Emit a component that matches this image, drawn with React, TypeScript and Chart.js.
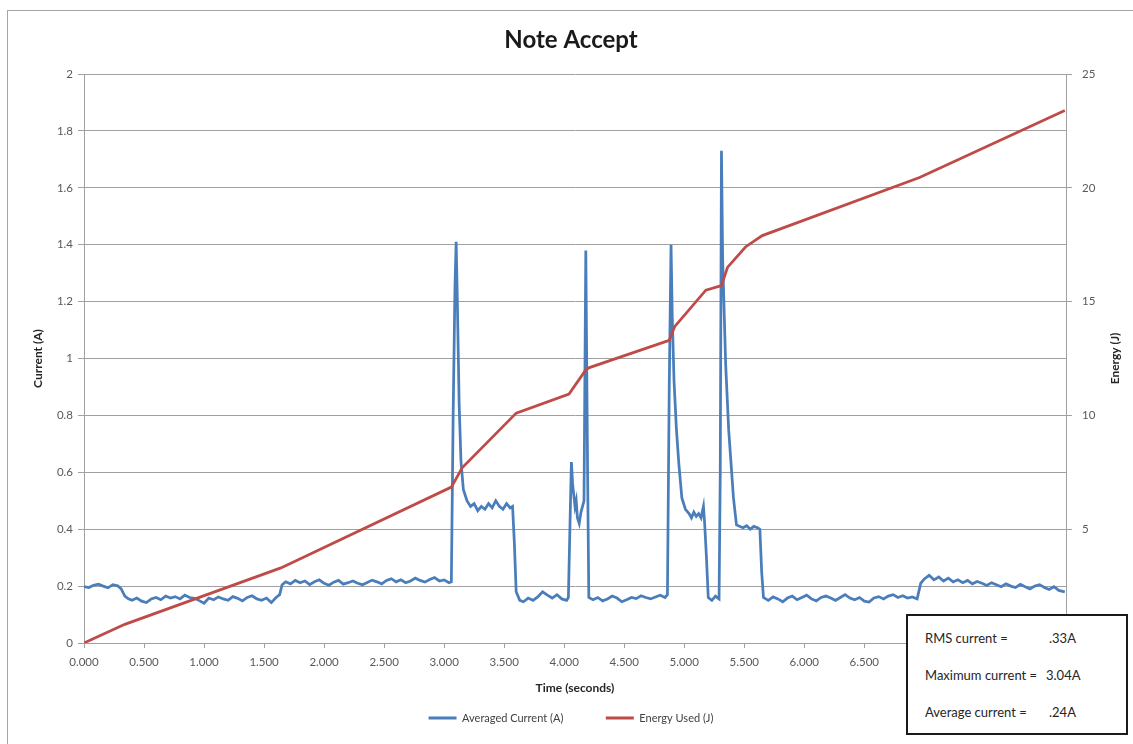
import React, { useEffect, useRef } from "react";
import { Chart, registerables } from "chart.js";

Chart.register(...registerables);

const chartTitle = "Note Accept";
const xAxisTitle = "Time (seconds)";
const leftAxisTitle = "Current (A)";
const rightAxisTitle = "Energy (J)";
const seriesNames = ["Averaged Current (A)", "Energy Used (J)"];

// Averaged current samples: time (s) and current (A)
const currentTime = [
  0, 0.04, 0.08, 0.12, 0.16, 0.2, 0.24, 0.28, 0.31, 0.34, 0.37,
  0.4, 0.44, 0.48, 0.52, 0.56, 0.6, 0.64, 0.68, 0.72, 0.76,
  0.8, 0.84, 0.88, 0.92, 0.96, 1.0, 1.04, 1.08, 1.12, 1.16,
  1.2, 1.24, 1.28, 1.32, 1.36, 1.4, 1.44, 1.48, 1.52, 1.56, 1.6, 1.63,
  1.65, 1.68, 1.72, 1.76, 1.8, 1.84, 1.88, 1.92, 1.96, 2.0,
  2.04, 2.08, 2.12, 2.16, 2.2, 2.24, 2.28, 2.32, 2.36, 2.4,
  2.44, 2.48, 2.52, 2.56, 2.6, 2.64, 2.68, 2.72, 2.76, 2.8,
  2.84, 2.88, 2.92, 2.96, 3.0, 3.04, 3.06,
  3.075, 3.09, 3.1, 3.11, 3.125, 3.14, 3.16, 3.19, 3.22, 3.25,
  3.28, 3.31, 3.34, 3.37, 3.4, 3.43, 3.46, 3.49, 3.52, 3.55, 3.57, 3.585,
  3.6, 3.63, 3.66, 3.7, 3.74, 3.78, 3.82, 3.86, 3.9, 3.94, 3.98, 4.02,
  4.035, 4.05, 4.06, 4.07, 4.08, 4.09, 4.1, 4.11, 4.125, 4.14, 4.165, 4.18, 4.195, 4.205,
  4.24, 4.28, 4.32, 4.36, 4.4, 4.44, 4.48, 4.52, 4.56, 4.6,
  4.64, 4.68, 4.72, 4.76, 4.8, 4.84, 4.86,
  4.875, 4.89, 4.9, 4.915, 4.935, 4.955, 4.98, 5.01, 5.04, 5.06, 5.08, 5.1, 5.12, 5.14, 5.16, 5.17, 5.185,
  5.2, 5.23, 5.26, 5.29,
  5.3, 5.31, 5.32, 5.345, 5.37, 5.41, 5.435, 5.46, 5.49, 5.52, 5.55, 5.58, 5.61, 5.63, 5.645,
  5.66, 5.7, 5.74, 5.78, 5.82, 5.86, 5.9, 5.94, 5.98, 6.02,
  6.06, 6.1, 6.14, 6.18, 6.22, 6.26, 6.3, 6.34, 6.38, 6.42,
  6.46, 6.5, 6.54, 6.58, 6.62, 6.66, 6.7, 6.74, 6.78, 6.82, 6.86, 6.9, 6.94,
  6.97, 7.0, 7.04, 7.08, 7.12, 7.16, 7.2, 7.24, 7.28, 7.32,
  7.36, 7.4, 7.44, 7.48, 7.52, 7.56, 7.6, 7.64, 7.68, 7.72,
  7.76, 7.8, 7.84, 7.88, 7.92, 7.96, 8.0, 8.04, 8.08, 8.12, 8.17,
];

const currentA = [
  0.198, 0.195, 0.203, 0.207, 0.2, 0.194, 0.205, 0.201, 0.19, 0.165, 0.155,
  0.15, 0.158, 0.147, 0.142, 0.155, 0.16, 0.152, 0.165, 0.158, 0.163,
  0.155, 0.168, 0.16, 0.157, 0.149, 0.14, 0.158, 0.152, 0.162, 0.155,
  0.15, 0.163, 0.157, 0.148, 0.16, 0.166, 0.155, 0.15, 0.158, 0.142, 0.16, 0.17,
  0.205, 0.215, 0.208, 0.22, 0.212, 0.218, 0.205, 0.215, 0.222, 0.21,
  0.203, 0.214, 0.22, 0.207, 0.212, 0.218, 0.21, 0.205, 0.213, 0.221,
  0.215, 0.208, 0.22, 0.226, 0.215, 0.222, 0.212, 0.218, 0.228, 0.22,
  0.214, 0.223, 0.23, 0.218, 0.222, 0.212, 0.215,
  0.8, 1.25, 1.41, 1.2, 0.84, 0.64, 0.54, 0.5, 0.48, 0.49,
  0.465, 0.48, 0.47, 0.49, 0.475, 0.5, 0.48, 0.47, 0.49, 0.475, 0.48, 0.35,
  0.18, 0.15, 0.145, 0.158, 0.15, 0.162, 0.18, 0.168, 0.158, 0.17, 0.155, 0.15,
  0.16, 0.45, 0.636, 0.56, 0.52, 0.48, 0.5, 0.44, 0.42, 0.46, 0.5, 1.38, 0.6, 0.16,
  0.152, 0.16, 0.148, 0.155, 0.165, 0.158, 0.145, 0.152, 0.16, 0.156,
  0.166, 0.16, 0.155, 0.162, 0.168, 0.16, 0.17,
  0.9, 1.4, 1.15, 0.92, 0.75, 0.63, 0.51, 0.47, 0.455, 0.44, 0.46, 0.445, 0.455, 0.44, 0.48, 0.42, 0.3,
  0.16, 0.15, 0.165, 0.155,
  0.6, 1.73, 1.35, 0.98, 0.75, 0.51, 0.415, 0.41, 0.405, 0.412, 0.4, 0.41, 0.405, 0.4, 0.25,
  0.16, 0.15, 0.162, 0.155, 0.145, 0.158, 0.165, 0.152, 0.16, 0.168,
  0.155, 0.148, 0.16, 0.165, 0.158, 0.15, 0.16, 0.17, 0.158, 0.152,
  0.16, 0.147, 0.144, 0.158, 0.163, 0.155, 0.165, 0.17, 0.16, 0.166, 0.158, 0.162, 0.155,
  0.21, 0.225, 0.238, 0.222, 0.232, 0.218, 0.228, 0.215, 0.222, 0.212,
  0.22, 0.208, 0.216, 0.21, 0.202, 0.212, 0.205, 0.198, 0.208, 0.2,
  0.195, 0.206, 0.198, 0.19, 0.2, 0.205, 0.195, 0.188, 0.198, 0.185, 0.18,
];

// Energy used: time (s) and energy (J)
const energyTime = [0, 0.34, 1.64, 3.06, 3.15, 3.6, 4.04, 4.18, 4.21, 4.875, 4.92, 5.18, 5.31, 5.36, 5.51, 5.65, 6.96, 8.17];
const energyJ = [0, 0.82, 3.3, 6.85, 7.7, 10.1, 10.94, 12.0, 12.1, 13.3, 13.9, 15.5, 15.7, 16.5, 17.4, 17.9, 20.45, 23.4];

// Axis settings
const timeMax = 8.18;
const timeStep = 0.5;
const currentMax = 2;
const currentStep = 0.2;
const energyMax = 25;
const energyStep = 5;

// Statistics box
const statLabels = ["RMS current =", "Maximum current =", "Average current ="];
const statValues = [".33A", "3.04A", ".24A"];

const BLUE = "#4a7ebb";
const RED = "#be4b48";
const GRID = "#a0a0a0";
const TICK_TEXT = "#595959";
const FONT = "Lato, 'Open Sans', sans-serif";

export default function App() {
  const canvasRef = useRef<HTMLCanvasElement | null>(null);

  useEffect(() => {
    if (!canvasRef.current) return;
    const currentPts = currentTime.map((t, i) => ({ x: t, y: currentA[i] }));
    const energyPts = energyTime.map((t, i) => ({ x: t, y: energyJ[i] }));

    const rightTitlePlugin = {
      id: "rightTitle",
      afterDraw(chart: any) {
        const { ctx, chartArea } = chart;
        ctx.save();
        ctx.translate(1115, (chartArea.top + chartArea.bottom) / 2);
        ctx.rotate(-Math.PI / 2);
        ctx.font = `bold 12px ${FONT}`;
        ctx.fillStyle = "#262626";
        ctx.textAlign = "center";
        ctx.textBaseline = "middle";
        ctx.fillText(rightAxisTitle, 0, 0);
        ctx.restore();
      },
    };

    const chart = new Chart(canvasRef.current, {
      type: "line",
      data: {
        datasets: [
          {
            label: seriesNames[0],
            data: currentPts,
            borderColor: BLUE,
            backgroundColor: BLUE,
            borderWidth: 2.75,
            pointRadius: 0,
            tension: 0,
            yAxisID: "y",
            order: 1,
          },
          {
            label: seriesNames[1],
            data: energyPts,
            borderColor: RED,
            backgroundColor: RED,
            borderWidth: 2.75,
            pointRadius: 0,
            tension: 0,
            yAxisID: "y2",
            order: 0,
          },
        ],
      },
      options: {
        responsive: false,
        animation: false,
        devicePixelRatio: 1,
        layout: { padding: { left: 14, right: 5, top: 10, bottom: 10.5 } },
        plugins: {
          tooltip: { enabled: false },
          title: {
            display: true,
            text: chartTitle,
            color: "#1a1a1a",
            font: { family: FONT, size: 24, weight: "bold" },
            padding: { top: 15.6, bottom: 19.6 },
          },
          legend: {
            display: true,
            position: "bottom",
            labels: {
              font: { family: FONT, size: 11 },
              color: "#404040",
              boxWidth: 28,
              boxHeight: 3,
              padding: 42.5,
              generateLabels: (c: any) =>
                c.data.datasets.map((ds: any, i: number) => ({
                  text: ds.label,
                  fillStyle: ds.borderColor,
                  strokeStyle: ds.borderColor,
                  lineWidth: 0,
                  hidden: false,
                  datasetIndex: i,
                  fontColor: "#404040",
                })),
            },
          },
        },
        scales: {
          x: {
            type: "linear",
            min: 0,
            max: timeMax,
            afterFit: (s: any) => {
              s.height = 27;
            },
            border: { display: true, color: GRID, width: 1 },
            grid: { drawOnChartArea: false, drawTicks: true, tickLength: 5, color: GRID },
            ticks: {
              stepSize: timeStep,
              includeBounds: false,
              autoSkip: false,
              maxRotation: 0,
              padding: 7,
              color: TICK_TEXT,
              font: { family: FONT, size: 11.5 },
              callback: (v: any) => Number(v).toFixed(3),
            },
            title: {
              display: true,
              text: xAxisTitle,
              color: "#262626",
              font: { family: FONT, size: 12, weight: "bold" },
              padding: { top: 0, bottom: -25.2 },
            },
          },
          y: {
            type: "linear",
            position: "left",
            min: 0,
            max: currentMax,
            afterFit: (s: any) => {
              s.width = 70;
            },
            border: { display: true, color: GRID, width: 1 },
            grid: { color: GRID, lineWidth: 1, tickLength: 6, drawTicks: true },
            ticks: {
              stepSize: currentStep,
              padding: 5,
              color: TICK_TEXT,
              font: { family: FONT, size: 11.5 },
              callback: (v: any) => String(Math.round(Number(v) * 10) / 10),
            },
            title: {
              display: true,
              text: leftAxisTitle,
              color: "#262626",
              font: { family: FONT, size: 12, weight: "bold" },
              padding: { top: 17, bottom: 0 },
            },
          },
          y2: {
            type: "linear",
            position: "right",
            min: 0,
            max: energyMax,
            afterFit: (s: any) => {
              s.width = 62;
            },
            border: { display: true, color: GRID, width: 1 },
            grid: { drawOnChartArea: false, tickLength: 6, color: GRID },
            ticks: {
              stepSize: energyStep,
              padding: 10,
              color: TICK_TEXT,
              font: { family: FONT, size: 11.5 },
            },
          },
        },
      },
      plugins: [rightTitlePlugin],
    } as any);

    return () => chart.destroy();
  }, []);

  return (
    <div
      style={{
        position: "absolute",
        left: 0,
        top: 0,
        width: 1133,
        height: 744,
        background: "#ffffff",
        overflow: "hidden",
      }}
    >
      <div
        style={{
          position: "absolute",
          left: 7,
          top: 10,
          width: 1140,
          height: 760,
          borderLeft: "1px solid #a6a6a6",
          borderTop: "1px solid #a6a6a6",
        }}
      />
      <canvas
        ref={canvasRef}
        width={1133}
        height={744}
        style={{ position: "absolute", left: 0, top: 0, width: 1133, height: 744 }}
      />
      <div
        style={{
          position: "absolute",
          left: 906,
          top: 614,
          width: 218,
          height: 117,
          border: "2px solid #1a1a1a",
          background: "#ffffff",
          fontFamily: FONT,
          fontSize: 13,
          color: "#262626",
        }}
      >
        {statLabels.map((lab, i) => (
          <div
            key={lab}
            style={{
              position: "absolute",
              left: 17,
              top: 12 + i * 37,
              width: 200,
              height: 20,
              lineHeight: "20px",
              whiteSpace: "nowrap",
            }}
          >
            <span>{lab}</span>
            <span style={{ position: "absolute", left: i === 1 ? 121 : 124 }}>{statValues[i]}</span>
          </div>
        ))}
      </div>
    </div>
  );
}
